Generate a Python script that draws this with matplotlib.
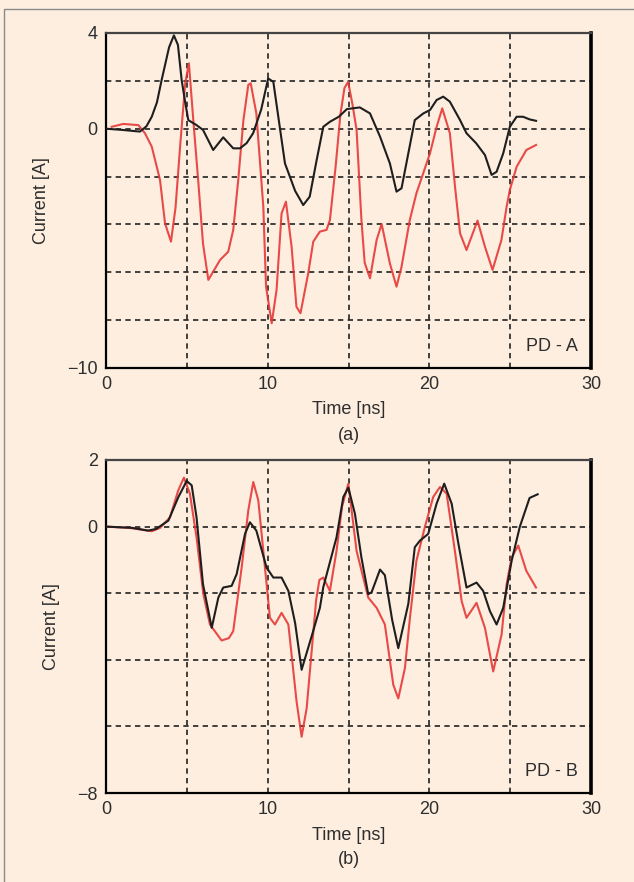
import matplotlib
matplotlib.use("Agg")
import matplotlib.pyplot as plt
from matplotlib.patches import Rectangle

plt.rcParams['font.family'] = ['Liberation Sans', 'DejaVu Sans']

# ---------------- data ----------------
# Panel (a) PD - A
tA_black = [0, 1.0, 2.1, 2.5, 2.83, 3.15, 3.44, 3.9, 4.2, 4.45, 4.68, 4.9, 5.09, 5.6, 6.0, 6.63, 7.25, 7.87, 8.29,
            8.7, 9.1, 9.6, 10.03, 10.35, 10.7, 11.07, 11.7, 12.2, 12.6, 13.03, 13.44, 13.85, 14.4, 14.9, 15.7, 16.33,
            16.95, 17.56, 17.97, 18.28, 18.7, 19.1, 19.63, 20.04, 20.45, 20.86, 21.27, 21.9, 22.3,
            22.9, 23.44, 23.85, 24.16, 24.57, 24.98, 25.4, 25.8, 26.2, 26.6]
iA_black = [0, -0.05, -0.12, 0.1, 0.5, 1.1, 2.03, 3.4, 3.9, 3.5, 2.03, 1.1, 0.36, 0.15, -0.05, -0.89, -0.36, -0.82, -0.82,
            -0.6, -0.19, 0.8, 2.1, 1.96, 0.3, -1.45, -2.6, -3.19, -2.84, -1.31, 0.08, 0.29, 0.5, 0.82, 0.89, 0.64,
            -0.33, -1.45, -2.63, -2.49, -1.03, 0.36, 0.64, 0.78, 1.2, 1.34, 1.13, 0.36, -0.19,
            -0.61, -1.1, -1.93, -1.8, -1.03, 0.08, 0.5, 0.5, 0.39, 0.33]

tA_red = [0.35, 1.07, 2.0, 2.41, 2.83, 3.14, 3.34, 3.65, 4.02, 4.3, 4.6, 4.9, 5.13, 5.4, 5.7, 6.0, 6.33,
          7.05, 7.56, 7.87, 8.18, 8.5, 8.8, 8.95, 9.3, 9.73, 9.9, 10.25, 10.55, 10.86, 11.13, 11.48,
          11.78, 12.03, 12.51, 12.82, 13.23, 13.64, 13.85, 14.2, 14.5, 14.75, 14.98, 15.25, 15.5, 15.8,
          16.0, 16.33, 16.74, 17.05, 17.56, 17.97, 18.28, 18.79, 19.2, 20.04, 20.45, 20.8, 21.27, 21.6,
          21.9, 22.3, 22.98, 23.44, 23.91, 24.46, 24.78, 24.98, 25.4, 26.0, 26.6]
iA_red = [0.08, 0.2, 0.15, -0.19, -0.75, -1.59, -2.14, -3.95, -4.72, -3.3, -0.6, 1.9, 2.73, 0.36, -2.14, -4.8, -6.32,
          -5.49, -5.14, -4.23, -2.14, 0.36, 1.83, 1.9, 0.64, -3.26, -6.6, -8.13, -6.74, -3.54, -3.05, -4.93,
          -7.44, -7.71, -6.04, -4.72, -4.3, -4.23, -3.82, -1.6, 0.6, 1.7, 1.96, 1.0, -0.05, -3.82,
          -5.6, -6.25, -4.65, -3.98, -5.63, -6.6, -5.77, -3.82, -2.7, -1.03, 0.08, 0.85, -0.19, -2.5,
          -4.37, -5.07, -3.84, -4.93, -5.9, -4.65, -3.26, -2.56, -1.59, -0.89, -0.68]

# Panel (b) PD - B
tB_black = [0, 1.65, 2.6, 3.1, 3.86, 4.47, 4.99, 5.3, 5.6, 6.0, 6.54, 6.95, 7.25, 7.77, 8.08, 8.6, 8.9,
            9.3, 9.93, 10.35, 10.86, 11.28, 11.7, 12.1, 12.82, 13.23, 13.44, 14.26, 14.68, 14.99, 15.4,
            15.8, 16.22, 16.43, 16.95, 17.25, 17.7, 18.08, 18.7, 19.1, 19.42, 19.93, 20.45, 20.92,
            21.38, 21.8, 22.3, 22.92, 23.33, 23.75, 24.16, 24.57, 25.09, 25.6, 26.2, 26.7]
iB_black = [0, -0.04, -0.12, -0.07, 0.18, 0.88, 1.37, 1.24, 0.28, -1.73, -3.04, -2.13, -1.83, -1.78, -1.43, -0.22, 0.13,
            -0.12, -1.23, -1.53, -1.53, -1.93, -2.9, -4.3, -3.13, -2.44, -1.82, -0.32, 0.89, 1.17, 0.38,
            -0.93, -2.03, -1.97, -1.29, -1.46, -2.8, -3.65, -2.32, -0.62, -0.42, -0.22, 0.69, 1.29,
            0.69, -0.52, -1.83, -1.68, -1.93, -2.54, -2.94, -2.44, -1.03, 0.0, 0.86, 0.97]

tB_red = [0, 1.48, 2.83, 3.34, 3.96, 4.47, 4.82, 5.19, 5.6, 6.02, 6.43, 7.15, 7.6, 7.87, 8.39, 8.8, 9.11,
          9.42, 9.73, 10.14, 10.45, 10.86, 11.28, 11.79, 12.1, 12.41, 12.72, 13.0, 13.2, 13.44, 13.85,
          14.26, 14.6, 14.99, 15.5, 16.22, 16.74, 17.25, 17.77, 18.08, 18.49, 18.8, 19.2, 19.73, 20.24,
          20.66, 21.07, 21.58, 22.0, 22.3, 22.92, 23.44, 23.95, 24.47, 24.78, 25.09, 25.5, 26.0, 26.6]
iB_red = [0, -0.04, -0.14, -0.04, 0.28, 1.09, 1.47, 0.99, -0.32, -2.03, -2.94, -3.42, -3.35, -3.14, -1.23, 0.48, 1.34,
          0.79, -0.73, -2.74, -2.94, -2.59, -2.94, -5.26, -6.31, -5.46, -3.75, -2.2, -1.6, -1.53, -1.93,
          -0.73, 0.6, 1.29, -0.73, -2.13, -2.44, -2.94, -4.75, -5.16, -4.25, -2.74, -1.03, 0.0, 0.89,
          1.19, 0.99, -0.73, -2.24, -2.74, -2.29, -3.04, -4.35, -3.24, -1.73, -0.93, -0.57, -1.33, -1.83]

x_ticks = [0, 10, 20, 30]
x_grid = [5, 10, 15, 20, 25]
yA_ticks = [4, 0, -10]
yA_labels = ['4', '0', '\u221210']
yA_grid = [2, 0, -2, -4, -6, -8]
yB_ticks = [2, 0, -8]
yB_labels = ['2', '0', '\u22128']
yB_grid = [0, -2, -4, -6]

# ---------------- figure ----------------
W, H = 634, 882
BG = '#fdeedf'
fig = plt.figure(figsize=(W / 100, H / 100), dpi=100, facecolor=BG)
fig.patches.append(Rectangle((4 / W, -0.01), 1.1, 1 - 9 / H + 0.01, transform=fig.transFigure,
                             fill=False, edgecolor='#8a8a8a', lw=1.0))

RED = '#e63838'
BLK = '#1e1e1e'
TXT = '#2e2e2e'
FS = 13


def make_panel(rect, tb, ib, tr, ir, ylim, yticks, ylabels, ygrid, tag, letter, letter_y, xlab_y):
    ax = fig.add_axes(rect)
    ax.set_facecolor(BG)
    ax.set_xlim(0, 30)
    ax.set_ylim(*ylim)
    for g in x_grid:
        ax.axvline(g, color='#222222', lw=1.2, ls=(0, (3.2, 2.6)), zorder=1)
    for g in ygrid:
        ax.axhline(g, color='#222222', lw=1.2, ls=(0, (3.2, 2.6)), zorder=1)
    ax.plot(tr, ir, color=RED, lw=1.5, alpha=0.9, zorder=3, solid_joinstyle='round')
    ax.plot(tb, ib, color=BLK, lw=1.5, zorder=4, solid_joinstyle='round')
    ax.set_xticks(x_ticks)
    ax.set_xticklabels([str(v) for v in x_ticks])
    ax.set_yticks(yticks)
    ax.set_yticklabels(ylabels)
    ax.tick_params(length=0, pad=6, labelsize=FS, labelcolor=TXT)
    for s in ax.spines.values():
        s.set_linewidth(1.6)
        s.set_color('black')
    ax.spines['top'].set_color('#444444')
    ax.spines['right'].set_linewidth(2.6)
    ax.set_ylabel('Current [A]', fontsize=FS, color=TXT, labelpad=12)
    ax.text(0.973, 0.065, tag, transform=ax.transAxes, ha='right', va='center',
            fontsize=FS, color=TXT)
    fig.text((106 + 591) / 2 / W, 1 - xlab_y / H, 'Time [ns]', ha='center', va='center',
             fontsize=FS, color=TXT)
    fig.text((106 + 591) / 2 / W, 1 - letter_y / H, letter, ha='center', va='center',
             fontsize=FS, color=TXT)
    return ax


L = 106 / W
Wd = 485 / W
make_panel([L, 1 - 368 / H, Wd, 335 / H], tA_black, iA_black, tA_red, iA_red,
           (-10, 4), yA_ticks, yA_labels, yA_grid, 'PD - A', '(a)', 435, 409)
make_panel([L, 1 - 793 / H, Wd, 333 / H], tB_black, iB_black, tB_red, iB_red,
           (-8, 2), yB_ticks, yB_labels, yB_grid, 'PD - B', '(b)', 860, 835)

fig.savefig('out.png', dpi=100, facecolor=BG)
